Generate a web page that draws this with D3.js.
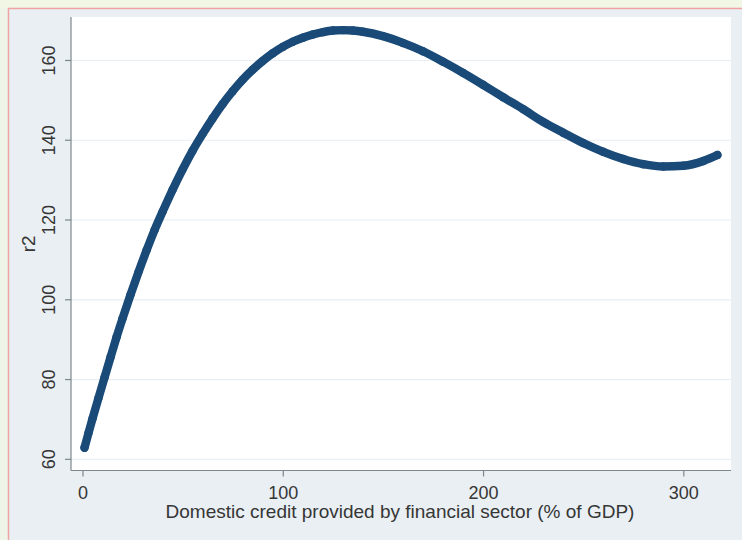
<!DOCTYPE html>
<html>
<head>
<meta charset="utf-8">
<script src="https://cdn.jsdelivr.net/npm/d3@7"></script>
<style>
  html, body { margin: 0; padding: 0; background: #eef4e7; }
  svg { display: block; }
  text { font-family: "Liberation Sans", Arial, sans-serif; fill: #363636; }
</style>
</head>
<body>
<svg id="chart" width="742" height="540"></svg>
<script>
// Domestic credit (% of GDP) values and fitted r2 values
const credit = [1,3,5,8,11,14,17,20,24,28,32,36,40,45,50,55,60,65,70,75,80,85,90,95,100,105,110,115,120,125,130,135,140,150,160,170,180,190,200,210,220,230,240,250,260,270,280,290,300,310,317];
const r2 = [62.9,66.6,70.2,75.4,80.5,85.6,90.6,95.3,101.3,107.0,112.4,117.5,122.1,127.6,132.7,137.4,141.6,145.5,149.1,152.3,155.2,157.7,159.9,161.8,163.4,164.7,165.7,166.5,167.1,167.5,167.6,167.5,167.2,166.1,164.4,162.3,159.7,156.9,153.9,150.8,147.8,144.6,141.9,139.3,137.1,135.3,134.0,133.4,133.6,134.8,136.3];
const xTicks = [0, 100, 200, 300];
const yTicks = [60, 80, 100, 120, 140, 160];
const xTitle = "Domestic credit provided by financial sector (% of GDP)";
const yTitle = "r2";

const svg = d3.select("#chart");
const W = 742, H = 540;
const plot = { left: 71, right: 731, top: 17, bottom: 470.5 };

// outer frame
svg.append("rect").attr("x", 0).attr("y", 0).attr("width", W).attr("height", 8).attr("fill", "#f2f6e5");
svg.append("rect").attr("x", 9).attr("y", 9).attr("width", W - 9).attr("height", H - 9).attr("fill", "#e9eff3");
svg.append("line").attr("x1", 8).attr("x2", W).attr("y1", 8.5).attr("y2", 8.5).attr("stroke", "#efa3a3").attr("stroke-width", 1.5);
svg.append("line").attr("x1", 8.5).attr("x2", 8.5).attr("y1", 8).attr("y2", H).attr("stroke", "#efa3a3").attr("stroke-width", 1.5);

// plot region
svg.append("rect").attr("x", plot.left).attr("y", plot.top)
  .attr("width", plot.right - plot.left).attr("height", plot.bottom - plot.top).attr("fill", "#ffffff");

const x = d3.scaleLinear().domain([-5.74, 323.8]).range([plot.left, plot.right]);
const y = d3.scaleLinear().domain([57.2, 170.9]).range([plot.bottom, plot.top]);

// gridlines
svg.append("g").selectAll("line").data(yTicks).join("line")
  .attr("x1", plot.left).attr("x2", plot.right)
  .attr("y1", d => y(d)).attr("y2", d => y(d))
  .attr("stroke", "#e8eef1").attr("stroke-width", 1.2);

// axes
const yAxis = d3.axisLeft(y).tickValues(yTicks).tickSize(6).tickPadding(4);
const gy = svg.append("g").attr("transform", `translate(${plot.left},0)`).call(yAxis);
gy.select(".domain").attr("d", `M0,${plot.top}V${plot.bottom}`);
gy.selectAll("path, line").attr("stroke", "#7d878c").attr("stroke-width", 1.2);
gy.selectAll(".tick").attr("transform", null);
gy.selectAll(".tick line").attr("transform", d => `translate(0,${y(d)})`);
gy.selectAll(".tick text")
  .attr("font-size", 18).attr("fill", "#363636")
  .attr("text-anchor", "middle").attr("dy", null).attr("x", null)
  .attr("transform", d => `translate(-22.5,${y(d)}) rotate(-90)`)
  .attr("y", 0).attr("dominant-baseline", "central");

const xAxis = d3.axisBottom(x).tickValues(xTicks).tickSize(6).tickPadding(6);
const gx = svg.append("g").attr("transform", `translate(0,${plot.bottom})`).call(xAxis);
gx.select(".domain").attr("d", `M${plot.left},0H${plot.right}`);
gx.selectAll("path, line").attr("stroke", "#7d878c").attr("stroke-width", 1.2);
gx.selectAll(".tick text").attr("font-size", 18).attr("fill", "#363636").attr("dy", null).attr("y", 28);

// titles
svg.append("text").attr("x", 400).attr("y", 518)
  .attr("text-anchor", "middle").attr("font-size", 19).text(xTitle);
svg.append("text").attr("transform", `translate(28,${(plot.top + plot.bottom) / 2}) rotate(-90)`)
  .attr("text-anchor", "middle").attr("dominant-baseline", "central").attr("font-size", 19).text(yTitle);

// markers
const pts = credit.map((c, i) => [c, r2[i]]);
const color = "#1a4a78";
svg.append("path").datum(pts)
  .attr("d", d3.line().x(d => x(d[0])).y(d => y(d[1])).curve(d3.curveMonotoneX))
  .attr("fill", "none").attr("stroke", color).attr("stroke-width", 8.4)
  .attr("stroke-linecap", "round").attr("stroke-linejoin", "round");
svg.append("g").selectAll("circle").data(pts).join("circle")
  .attr("cx", d => x(d[0])).attr("cy", d => y(d[1])).attr("r", 4.2).attr("fill", color);
</script>
</body>
</html>
